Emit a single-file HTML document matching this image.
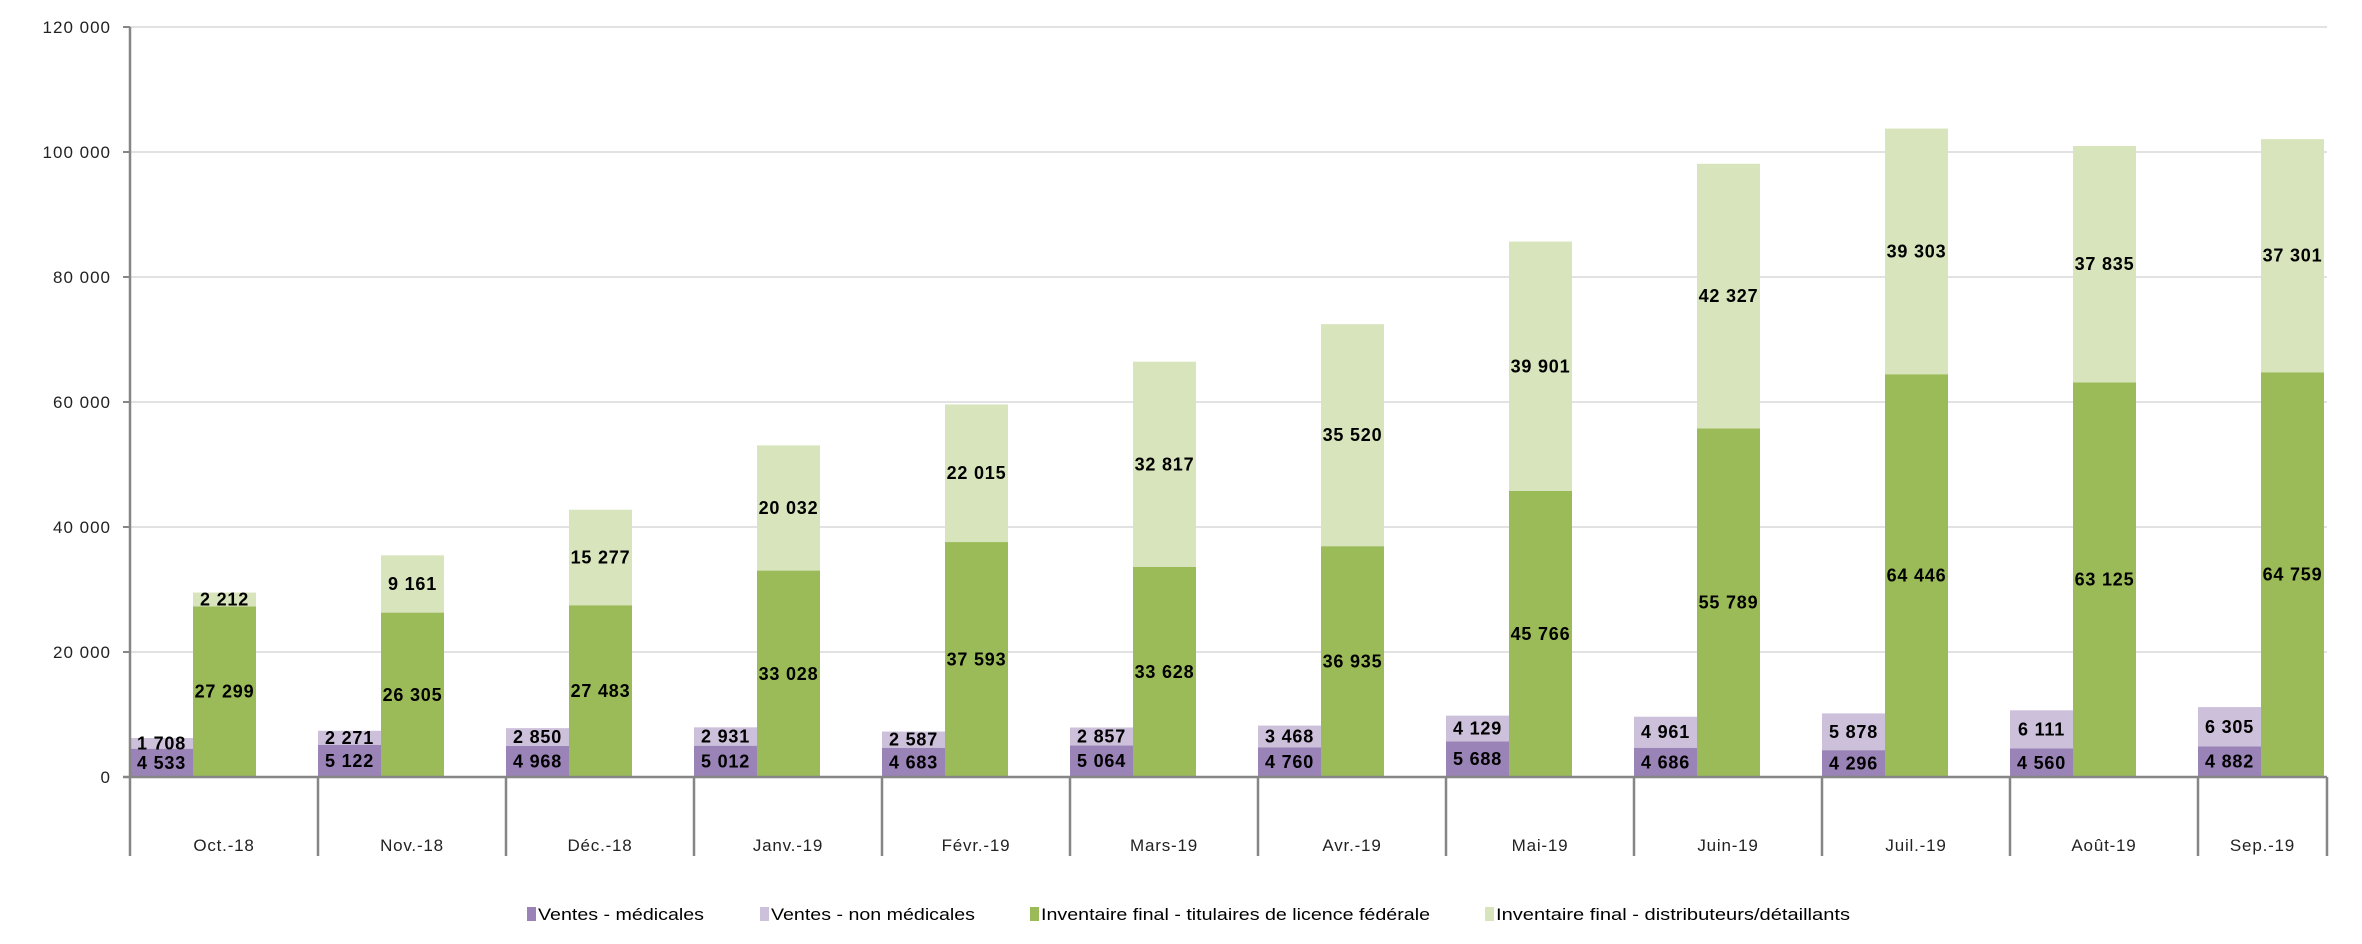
<!DOCTYPE html>
<html><head><meta charset="utf-8"><style>
html,body{margin:0;padding:0;background:#fff;}
svg{display:block;font-family:"Liberation Sans",sans-serif;}
</style></head><body>
<svg id="chart" width="2362" height="944" viewBox="0 0 2362 944" xmlns="http://www.w3.org/2000/svg"></svg>
<script>
const categories = ["Oct.-18","Nov.-18","Déc.-18","Janv.-19","Févr.-19","Mars-19","Avr.-19","Mai-19","Juin-19","Juil.-19","Août-19","Sep.-19"];
const ventesMedicales = [4533,5122,4968,5012,4683,5064,4760,5688,4686,4296,4560,4882];
const ventesNonMedicales = [1708,2271,2850,2931,2587,2857,3468,4129,4961,5878,6111,6305];
const inventaireFederal = [27299,26305,27483,33028,37593,33628,36935,45766,55789,64446,63125,64759];
const inventaireDistrib = [2212,9161,15277,20032,22015,32817,35520,39901,42327,39303,37835,37301];
const yTicks = [0,20000,40000,60000,80000,100000,120000];
const legendLabels = ["Ventes - médicales","Ventes - non médicales","Inventaire final - titulaires de licence fédérale","Inventaire final - distributeurs/détaillants"];

const svg = document.getElementById('chart');
const NS = 'http://www.w3.org/2000/svg';
const X0 = 130, XR = 2327, Y0 = 777, YT = 27, CAT = 188, BW = 63;
const yMax = 120000;
function y(v){ return Y0 - v/yMax*(Y0-YT); }
function catX(i){ return X0 + i*CAT; }
function fmt(v){ return String(v).replace(/\B(?=(\d{3})+(?!\d))/g,' '); }
function mk(tag, attrs){ const e=document.createElementNS(NS,tag); for(const k in attrs) e.setAttribute(k,attrs[k]); svg.appendChild(e); return e; }
const colors = ["#9a83b6","#ccc0da","#9bbb59","#d8e4bc"];

yTicks.forEach(t=>{
  if(t>0){
    const g = mk('line',{x1:X0,x2:XR,y1:y(t),y2:y(t),stroke:'#d9d9d9','stroke-width':1.5});
    
    
  }
  const tk = mk('line',{x1:123,x2:X0,y1:y(t),y2:y(t),stroke:'#868686','stroke-width':2});
  
  
  const tx = mk('text',{x:111,y:y(t)+6,'text-anchor':'end','font-size':17,'letter-spacing':1,fill:'#222'});
  tx.textContent = fmt(t);
  
  
});

categories.forEach((c,i)=>{
  const x1 = catX(i), x2 = catX(i)+BW;
  const segs = [
    [x1,0,ventesMedicales[i],0,'bar-ventes-medicales'],
    [x1,ventesMedicales[i],ventesNonMedicales[i],1,'bar-ventes-non-medicales'],
    [x2,0,inventaireFederal[i],2,'bar-inventaire-federal'],
    [x2,inventaireFederal[i],inventaireDistrib[i],3,'bar-inventaire-distributeurs']
  ];
  segs.forEach(s=>{
    const [bx,base,v,ci,name]=s;
    const r = mk('rect',{x:bx,y:y(base+v),width:BW,height:y(base)-y(base+v),fill:colors[ci]});
    
    
    const t = mk('text',{x:bx+BW/2,y:(y(base)+y(base+v))/2+6,'text-anchor':'middle','font-size':18,'font-weight':'bold','letter-spacing':0.8,fill:'#000'});
    t.textContent = fmt(v);
    
    
  });
  const l = mk('text',{x:Math.min(catX(i)+CAT/2,(catX(i)+XR)/2),y:851,'text-anchor':'middle','font-size':17,'letter-spacing':0.8,fill:'#222'});
  l.textContent = c;
  
  
  if(i>0){
    const d = mk('line',{x1:catX(i),x2:catX(i),y1:Y0,y2:856,stroke:'#868686','stroke-width':2.5});
    
    
  }
});
const rd = mk('line',{x1:XR,x2:XR,y1:Y0,y2:856,stroke:'#868686','stroke-width':2.5});



const ya = mk('line',{x1:X0,x2:X0,y1:YT,y2:856,stroke:'#868686','stroke-width':2.5});


const xa = mk('line',{x1:123,x2:XR,y1:Y0,y2:Y0,stroke:'#868686','stroke-width':2.5});



const lx = [527,760,1030,1485];
const lw = [166,204,389,354];
legendLabels.forEach((lab,i)=>{
  const m = mk('rect',{x:lx[i],y:907,width:9,height:14,fill:colors[i]});
  
  
  const t = mk('text',{x:lx[i]+11,y:920,'font-size':17,fill:'#000',textLength:lw[i],lengthAdjust:'spacingAndGlyphs'});
  t.textContent = lab;
  
  
});
</script>
</body></html>
